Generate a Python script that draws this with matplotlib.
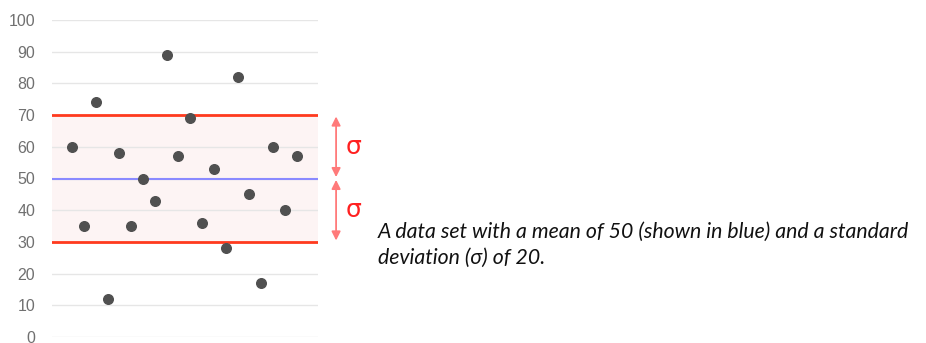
import matplotlib.pyplot as plt
import matplotlib.transforms as mtransforms

# valeurs
points = [60, 35, 74, 12, 58, 35, 50, 43, 89, 57, 69, 36, 53, 28, 82, 45, 17, 60, 40, 57]
x = list(range(1, len(points) + 1))
mean = 50
sigma = 20
yticks = [0, 10, 20, 30, 40, 50, 60, 70, 80, 90, 100]
caption = "A data set with a mean of 50 (shown in blue) and a standard\ndeviation (\u03c3) of 20."

W, H = 926, 343
fig = plt.figure(figsize=(W / 100, H / 100), dpi=100)
ax = fig.add_axes([52 / W, 6 / H, 266 / W, 317 / H])

# bande +/- sigma
ax.axhspan(mean - sigma, mean + sigma, color='#fdf4f4', zorder=0)
for t in yticks:
    ax.axhline(t, color='#e6e6e6', linewidth=1, zorder=1)
ax.axhline(mean + sigma, color='#ff3a1e', linewidth=2, zorder=2)
ax.axhline(mean - sigma, color='#ff3a1e', linewidth=2, zorder=2)
ax.axhline(mean, color='#8a8aff', linewidth=1.5, zorder=2)

ax.scatter(x, points, s=48, color='#505050', zorder=3, clip_on=False)

ax.set_xlim(-0.7, 21.8)
ax.set_ylim(0, 100)
ax.set_yticks(yticks)
ax.set_xticks([])
ax.tick_params(axis='y', length=0, pad=12, labelsize=11.5, labelcolor='#707070')
for lab in ax.get_yticklabels():
    lab.set_family(['Liberation Sans', 'DejaVu Sans'])
for s in ax.spines.values():
    s.set_visible(False)

# fleches sigma
trans = mtransforms.blended_transform_factory(ax.transAxes, ax.transData)
for lo, hi in [(mean, mean + sigma), (mean - sigma, mean)]:
    ax.annotate('', xy=(1.068, hi), xytext=(1.068, lo), xycoords=trans, textcoords=trans,
                arrowprops=dict(arrowstyle='<|-|>', color='#ff7a7a', lw=1.3,
                                mutation_scale=13, shrinkA=1, shrinkB=1),
                annotation_clip=False)
    ax.text(1.105, (lo + hi) / 2, '\u03c3', transform=trans, color='#ff2020',
            fontsize=18, va='center', ha='left', clip_on=False)

fig.text(378 / W, 1 - 222 / H, caption, fontsize=15.3, style='italic',
         family=['Lato', 'DejaVu Sans'], color='#111111', va='top', ha='left',
         linespacing=1.35)

plt.savefig('out.png', dpi=100)
